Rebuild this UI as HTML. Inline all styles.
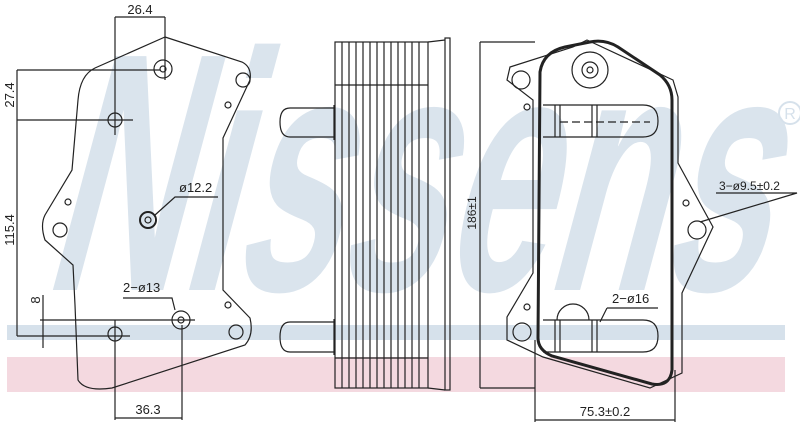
<!DOCTYPE html>
<html><head><meta charset="utf-8"><style>
html,body{margin:0;padding:0;background:#fff;}
svg{display:block;font-family:"Liberation Sans",sans-serif;}
</style></head><body>
<svg width="800" height="428" viewBox="0 0 800 428" xmlns="http://www.w3.org/2000/svg">
<!-- watermark -->
<g transform="skewX(-15)">
<text x="118" y="290" font-size="340" font-weight="bold" fill="#dae4ed" textLength="720" lengthAdjust="spacingAndGlyphs">Nissens</text>
</g>
<rect x="7" y="325" width="778" height="15" fill="#d6e1eb"/>
<rect x="7" y="357" width="778" height="35" fill="#f4d9e0"/>
<circle cx="790" cy="113" r="11" fill="none" stroke="#d6e1eb" stroke-width="2"/>
<text x="790" y="119" font-size="16" fill="#d6e1eb" text-anchor="middle">R</text>

<g fill="none" stroke="#222" stroke-width="1.2">
<!-- left plate -->
<path d="M165,37 L242,62 Q252,67 250,80 L223,138 L223,290 L250,318 Q254,335 245,345 L112,388 Q85,392 78,380 L75,305 L73,265 L45,240 Q40,225 45,215 L72,170 L78,100 Q80,75 95,68 Z"/>
<circle cx="163" cy="69" r="9"/><circle cx="163" cy="69" r="3"/>
<circle cx="115" cy="120" r="7"/>
<circle cx="243" cy="80" r="7"/><circle cx="228" cy="105" r="3"/>
<circle cx="148" cy="220" r="8" stroke-width="2"/><circle cx="148" cy="220" r="3"/>
<circle cx="68" cy="202" r="3"/><circle cx="60" cy="230" r="7"/>
<circle cx="181" cy="320" r="9"/><circle cx="181" cy="320" r="3"/>
<circle cx="228" cy="305" r="3"/><circle cx="236" cy="332" r="7"/>
<circle cx="115" cy="334" r="7"/>
<!-- dims left -->
<path d="M115,17 V135 M165,17 V80 M115,17 H165"/>
<path d="M17,70 H160 M17,120 H133 M17,70 V336 M17,336 H130"/>
<path d="M43,295 V348 M40,320 H195"/>
<path d="M115,320 V420 M182,325 V420 M115,418 H182"/>
<path d="M155,215 L175,197 H218"/>
<path d="M123,298 H172 L175,310"/>

<!-- middle view -->
<path d="M290,108 H334 M290,137 H334 M290,108 Q280,108 280,122 Q280,137 290,137 M334,105 V140"/>
<path d="M290,322 H334 M290,352 H334 M290,322 Q280,322 280,337 Q280,352 290,352 M334,319 V355"/>
<rect x="335" y="42" width="93" height="346"/>
<path d="M342,42 V388 M349,42 V388 M356,42 V388 M363,42 V388 M370,42 V388 M377,42 V388 M384,42 V388 M391,42 V388 M398,42 V388 M405,42 V388 M412,42 V388 M419,42 V388"/>
<path d="M335,85 H428 M335,358 H428"/>
<path d="M428,42 L445,40 M428,388 L445,390"/>
<rect x="445" y="38" width="5" height="352"/>

<!-- right view dims -->
<path d="M480,42 V388 M480,42 H535 M480,388 H535"/>
<path d="M535,340 V422 M675,370 V422 M535,420 H675"/>
<!-- right plate -->
<path d="M587,40 L673,80 L678,97 L678,163 L713,227 L682,293 L682,373 L650,388 L543,357 L507,340 L507,317 L533,273 L533,100 L507,80 L510,67 L573,47 Z"/>
<path d="M540,72 Q543,52 565,47 L590,42 Q605,39 618,47 L660,75 Q672,85 672,100 L672,370 Q670,387 652,384 L552,356 Q538,350 538,338 Z" stroke-width="3"/>
<circle cx="590" cy="70" r="18"/><circle cx="590" cy="70" r="8"/><circle cx="590" cy="70" r="3"/>
<circle cx="521" cy="80" r="9"/><circle cx="527" cy="107" r="3"/>
<circle cx="527" cy="307" r="3"/><circle cx="522" cy="332" r="9"/>
<circle cx="686" cy="203" r="3"/><circle cx="697" cy="230" r="9"/>
<!-- pipes -->
<path d="M543,105 H643 Q658,105 658,121 Q658,137 643,137 H543 M555,105 V137 M560,105 V137 M592,105 V137 M597,105 V137"/>
<path d="M560,122 H650" stroke-dasharray="8,4"/>
<path d="M557,320 A16,16 0 0 1 589,320"/>
<path d="M543,320 H643 Q658,320 658,336 Q658,352 643,352 H543 M555,320 V352 M560,320 V352 M592,320 V352 M597,320 V352"/>
<path d="M716,193 H797 L700,222"/>
<path d="M607,308 H658 M607,308 L600,322"/>
</g>

<g font-size="13" fill="#222">
<text x="140" y="14" text-anchor="middle">26.4</text>
<text transform="translate(14,95) rotate(-90)" text-anchor="middle">27.4</text>
<text transform="translate(14,230) rotate(-90)" text-anchor="middle">115.4</text>
<text transform="translate(40,300) rotate(-90)" text-anchor="middle">8</text>
<text x="148" y="414" text-anchor="middle">36.3</text>
<text x="179" y="192">ø12.2</text>
<text x="123" y="292">2−ø13</text>
<text transform="translate(476,213) rotate(-90)" text-anchor="middle" font-size="12">186±1</text>
<text x="719" y="190" font-size="12">3−ø9.5±0.2</text>
<text x="612" y="303">2−ø16</text>
<text x="605" y="416" text-anchor="middle">75.3±0.2</text>
</g>
</svg>
</body></html>
